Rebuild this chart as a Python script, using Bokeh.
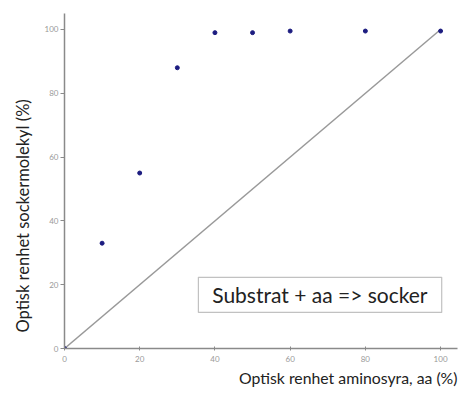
from bokeh.plotting import figure
from bokeh.models import Range1d, Label, BoxAnnotation, FixedTicker, Title
from bokeh.embed import file_html
from bokeh.resources import INLINE

# data
aa_purity = [0, 10, 20, 30, 40, 50, 60, 80, 100]
sugar_purity = [0, 33, 55, 88, 99, 99, 99.5, 99.5, 99.5]
ref_x = [0, 100]
ref_y = [0, 100]
x_ticks = [0, 20, 40, 60, 80, 100]
y_ticks = [0, 20, 40, 60, 80, 100]
x_title = "Optisk renhet aminosyra, aa (%)"
y_title = "Optisk renhet sockermolekyl (%)"
box_text = "Substrat + aa => socker"

FONT = "Lato"

p = figure(width=460, height=397, output_backend="svg", toolbar_location=None,
           x_range=Range1d(0, 104.5), y_range=Range1d(0, 105),
           min_border_left=64, min_border_right=3, min_border_top=13, min_border_bottom=49)
p.outline_line_color = None
p.grid.visible = False
p.background_fill_color = "white"

for ax in (p.xaxis, p.yaxis):
    ax.axis_line_color = "#8a8a8a"
    ax.axis_line_width = 1.5
    ax.major_tick_line_color = "#8a8a8a"
    ax.minor_tick_line_color = None
    ax.major_label_text_color = "#999999"
    ax.major_label_text_font = FONT
    ax.major_label_text_font_size = "8px"
    ax.axis_label = None

p.xaxis.ticker = FixedTicker(ticks=x_ticks)
p.yaxis.ticker = FixedTicker(ticks=y_ticks)
p.xaxis.major_tick_in = 2
p.xaxis.major_tick_out = 2
p.yaxis.major_tick_in = 0
p.yaxis.major_tick_out = 4
p.xaxis.major_label_standoff = 5
p.yaxis.major_label_standoff = 2

# diagonal reference line
p.line(ref_x, ref_y, line_color="#999999", line_width=1.5)

# data points
p.scatter(aa_purity, sugar_purity, size=4, marker="circle",
          fill_color="#1c1c80", line_color="#1c1c80")

# box with text
p.add_layout(BoxAnnotation(left=35.6, right=100.3, bottom=11.3, top=22.3,
                           fill_color="white", fill_alpha=1.0,
                           line_color="#333333", line_width=1.2))
p.add_layout(Label(x=67.9, y=16.8, text=box_text, text_align="center",
                   text_baseline="middle", text_font=FONT,
                   text_font_size="21px", text_color="#222222"))

# axis titles
p.add_layout(Title(text=x_title, align="right", offset=0, standoff=2,
                   text_font=FONT, text_font_size="15.8px", text_font_style="normal",
                   text_color="#222222"), "below")
p.add_layout(Title(text=y_title, align="left", offset=16, standoff=18,
                   text_font=FONT, text_font_size="16.5px", text_font_style="normal",
                   text_color="#222222"), "left")

open("out.html", "w").write(file_html(p, INLINE))
